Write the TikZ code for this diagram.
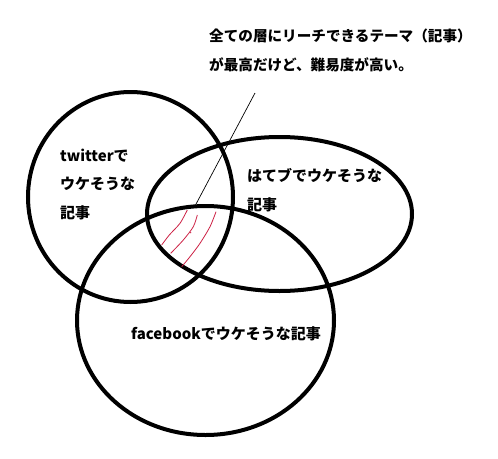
\documentclass[tikz,border=0pt]{standalone}
\usepackage{fontspec}
\newfontfamily\jp{Noto Sans CJK JP}
\begin{document}
\begin{tikzpicture}[x=1pt,y=-1pt,
  venn/.style={draw=black,line width=4pt},
  lbl/.style={font=\jp\bfseries\fontsize{15}{28.5}\selectfont,anchor=west,inner sep=0pt,align=left},
  note/.style={font=\jp\bfseries\fontsize{14.6}{29.3}\selectfont,anchor=west,inner sep=0pt,align=left},
  pointer/.style={draw=black,line width=0.7pt},
  hatch/.style={draw=hatchred,line width=0.8pt}]
\definecolor{hatchred}{RGB}{205,35,70}
\useasboundingbox (0,0) rectangle (498,458);
\fill[white] (0,0) rectangle (498,458);
% Venn ellipses
\draw[venn] (130.5,197) ellipse [x radius=102.5pt, y radius=105pt];
\draw[venn] (279.5,214) ellipse [x radius=132.5pt, y radius=77pt];
\draw[venn] (205.5,320.5) ellipse [x radius=128.5pt, y radius=114.5pt];
% labels
\node[lbl] (tw) at (60,184) {twitterで\\ウケそうな\\記事};
\node[lbl] (hb) at (247,190) {はてブでウケそうな\\記事};
\node[lbl] (fb) at (131,334) {facebookでウケそうな記事};
\node[note] (nt) at (209,50.5) {全ての層にリーチできるテーマ（記事）\\が最高だけど、難易度が高い。};
% pointer
\coordinate (ptop) at (255,93);
\coordinate (pend) at (195,206);
\draw[pointer] (ptop) -- (pend);
% red hatching in the triple intersection
\draw[hatch] plot[smooth] coordinates {(187.3,210) (180,223.3) (169.3,235) (161.7,245)};
\draw[hatch] plot[smooth] coordinates {(197.3,215) (193.3,226.7) (183.3,240) (170.7,253.3)};
\draw[hatch] plot[smooth] coordinates {(216,211.7) (210,226.7) (200,243.3) (190,256.7) (181.7,266.7)};
\fill[hatchred] (190.7,232.7) circle [radius=0.7pt];
\end{tikzpicture}
\end{document}
